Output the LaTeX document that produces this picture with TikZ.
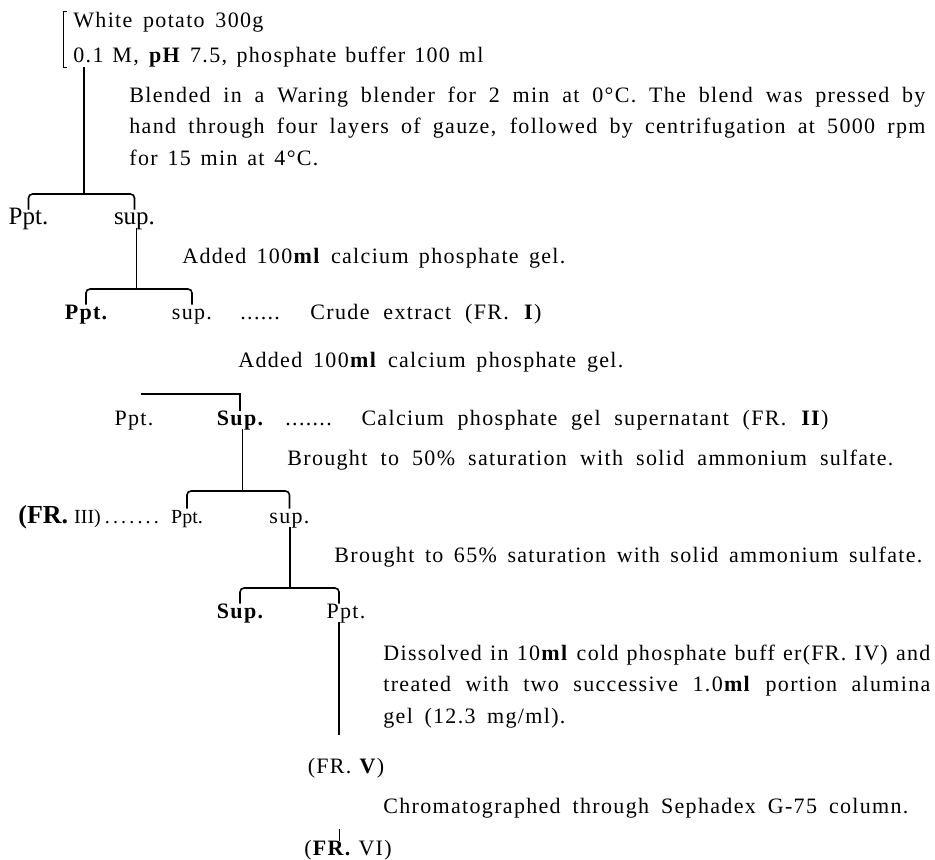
\documentclass[tikz,border=0pt]{standalone}
\usepackage{fontspec}
\setmainfont[LetterSpace=6]{Liberation Serif}
\newfontfamily\tightfont{Liberation Serif}
\newcommand{\spreadtxt}[2]{\makebox[#1][s]{#2}}
\begin{document}
\begin{tikzpicture}[x=0.5pt,y=-0.5pt,
  txt/.style={inner sep=0pt,anchor=base west,font=\fontsize{11}{13}\selectfont},
  part/.style={inner sep=0pt,anchor=base,text height=7pt,text depth=2pt,font=\fontsize{11}{13}\selectfont},
  bigpart/.style={part,font=\tightfont\fontsize{12.5}{14}\selectfont},
  bar/.style={draw=black,line width=0.8pt},
  stem/.style={draw=black,line width=0.5pt}]
\useasboundingbox (0,0) rectangle (935,859);
\node[txt] (potato) at (73,27) {\spreadtxt{95pt}{White potato 300g}};
\node[txt] (buffer) at (73,62) {\spreadtxt{205pt}{0.1 M, \textbf{pH} 7.5, phosphate buffer 100 ml}};
\draw[stem] ([xshift=-3pt]potato.north west) -- ++(-4,0) |- ([xshift=-3pt]buffer.south west);
\node[txt] (blend1) at (129,102) {\spreadtxt{398pt}{Blended in a Waring blender for 2 min at 0°C. The blend was pressed by}};
\node[txt] (blend2) at (129,133) {\spreadtxt{398pt}{hand through four layers of gauze, followed by centrifugation at 5000 rpm}};
\node[txt] (blend3) at (129,165) {\spreadtxt{94.5pt}{for 15 min at 4°C.}};
\node[bigpart] (ppt1) at (28.5,224) {Ppt.};
\node[bigpart] (sup1) at (134.5,224) {sup.};
\node[txt] (added1) at (182,263) {\spreadtxt{191.5pt}{Added 100\textbf{ml} calcium phosphate gel.}};
\node[part,font=\bfseries\fontsize{11}{13}\selectfont] (ppt2) at (86,319) {Ppt.};
\node[part] (sup2) at (192,319) {sup.};
\node[txt] (crude) at (240,319) {\spreadtxt{150.5pt}{...... Crude extract (FR. \textbf{I})}};
\node[txt] (added2) at (238,367) {\spreadtxt{192.5pt}{Added 100\textbf{ml} calcium phosphate gel.}};
\node[part] (ppt3) at (134,425) {Ppt.};
\node[part,font=\bfseries\fontsize{11}{13}\selectfont] (sup3) at (240,425) {Sup.};
\node[txt] (calgel) at (285,425) {\spreadtxt{271.5pt}{....... Calcium phosphate gel supernatant (FR. \textbf{II})}};
\node[txt] (brought50) at (287,465) {\spreadtxt{303pt}{Brought to 50\% saturation with solid ammonium sulfate.}};
\node[txt,font=\tightfont\fontsize{10}{12}\selectfont] (fr3) at (18,523) {{\fontsize{13}{14}\selectfont\textbf{(FR.}}\hspace{3pt}III)\hspace{2pt}\makebox[27pt][s]{.\hfill.\hfill.\hfill.\hfill.\hfill.\hfill.}};
\node[part,font=\tightfont\fontsize{10}{12}\selectfont] (ppt4) at (187,523) {Ppt.};
\node[part] (sup4) at (289.5,523) {sup.};
\node[txt] (brought65) at (334,562) {\spreadtxt{294pt}{Brought to 65\% saturation with solid ammonium sulfate.}};
\node[part,font=\bfseries\fontsize{11}{13}\selectfont] (sup5) at (240,618) {Sup.};
\node[part] (ppt5) at (346,618) {Ppt.};
\node[txt] (diss1) at (383,660) {\spreadtxt{273.5pt}{Dissolved in 10\textbf{ml} cold phosphate buff er(FR. IV) and}};
\node[txt] (diss2) at (383,691) {\spreadtxt{273.5pt}{treated with two successive 1.0\textbf{ml} portion alumina}};
\node[txt] (diss3) at (383,723) {\spreadtxt{91pt}{gel (12.3 mg/ml).}};
\node[part] (fr5) at (346,773) {(FR. \textbf{V})};
\node[txt] (chrom) at (383,813) {\spreadtxt{262.5pt}{Chromatographed through Sephadex G-75 column.}};
\node[part] (fr6) at (348,855) {(\textbf{FR.} VI)};
\coordinate (j1) at (84,194);
\draw[bar] (buffer.south west -| j1) -- (j1);
\draw[bar,rounded corners=2pt] (ppt1.north) |- (j1) -| (sup1.north);
\coordinate (j2) at (136,289);
\draw[stem] (sup1.south -| j2) -- (j2);
\draw[bar,rounded corners=2pt] (ppt2.north) |- (j2) -| (sup2.north);
\coordinate (b3) at (141,394);
\draw[bar] (b3) -| (sup3.north);
\coordinate (j4) at (242,491);
\draw[stem] (sup3.south -| j4) -- (j4);
\draw[bar,rounded corners=2pt] (ppt4.north) |- (j4) -| (sup4.north);
\coordinate (j5) at (290,588);
\draw[bar] (sup4.south -| j5) -- (j5);
\coordinate (j6) at (339,735);
\draw[bar,rounded corners=2pt] (sup5.north) |- (j5) -| (ppt5.north -| j6);
\draw[bar] (ppt5.south -| j6) -- (j6);
\draw[stem] (fr6.north -| j6) -- ++(0,-12);
\end{tikzpicture}
\end{document}
